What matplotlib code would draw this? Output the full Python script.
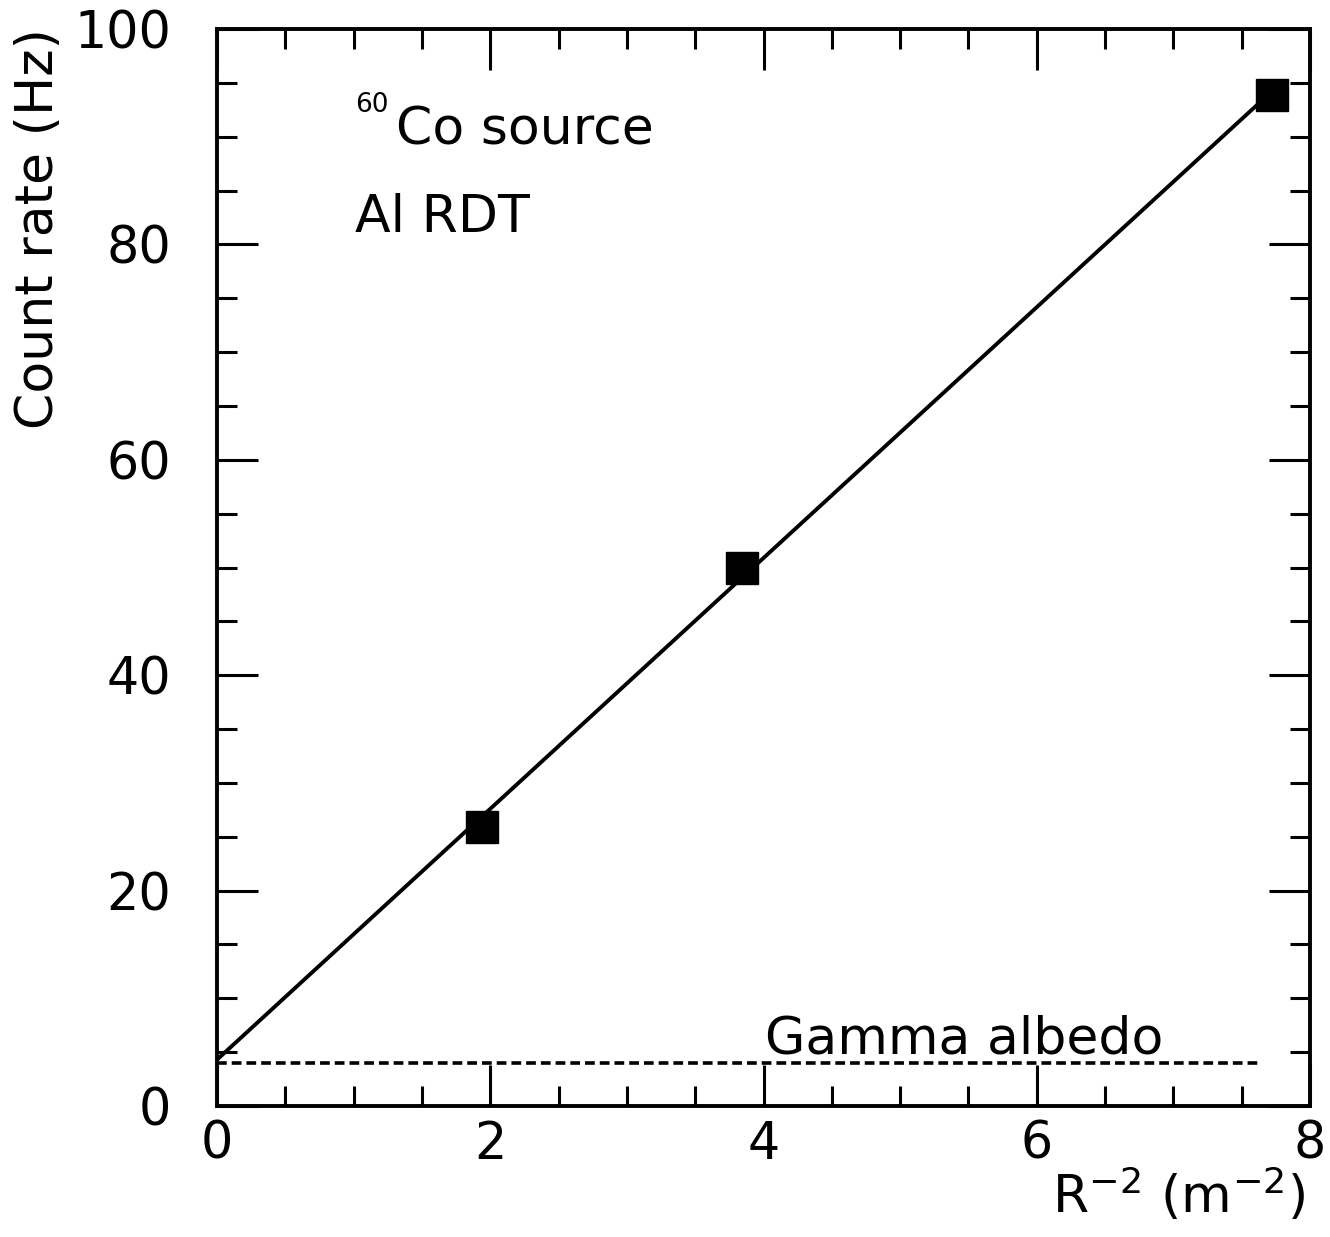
import matplotlib
matplotlib.use("Agg")
import matplotlib.pyplot as plt
from matplotlib.ticker import MultipleLocator

# ---- data ----
r_inv2 = [1.94, 3.84, 7.72]          # R^-2 (m^-2)
count_rate = [25.9, 49.95, 93.9]     # Hz
fit_x = [0.0, 7.72]
fit_y = [4.3, 94.2]
albedo_x = [0.0, 7.65]
albedo_y = [4.0, 4.0]
x_ticks = [0, 2, 4, 6, 8]
y_ticks = [0, 20, 40, 60, 80, 100]

plt.rcParams['font.family'] = ['DejaVu Sans']
plt.rcParams['mathtext.default'] = 'regular'
plt.rcParams['lines.scale_dashes'] = False

FS = 37.5
FS_TICK = 36.5
fig = plt.figure(figsize=(13.30, 12.37), dpi=100)
ax = fig.add_axes([217/1330, 1 - 1106/1237, (1310-217)/1330, (1106-29)/1237])

ax.plot(fit_x, fit_y, color='black', lw=2.8, solid_capstyle='butt', zorder=2)
ax.plot(albedo_x, albedo_y, color='black', lw=2.6, dashes=(7, 3.6), zorder=2)
ax.plot(r_inv2, count_rate, linestyle='none', marker='s', markersize=23,
        color='black', zorder=3)

ax.set_xlim(0, 8)
ax.set_ylim(0, 100)
ax.set_xticks(x_ticks)
ax.set_yticks(y_ticks)
ax.set_xticklabels([str(v) for v in x_ticks])
ax.set_yticklabels([str(v) for v in y_ticks])
ax.xaxis.set_minor_locator(MultipleLocator(0.5))
ax.yaxis.set_minor_locator(MultipleLocator(5))
ax.tick_params(which='both', direction='in', top=True, right=True, color='black')
ax.tick_params(which='major', length=29.5, width=2.2, labelsize=FS_TICK)
ax.tick_params(which='minor', length=14.5, width=2.2)
ax.tick_params(axis='y', which='major', pad=33)
ax.tick_params(axis='x', which='major', pad=10)
for s in ax.spines.values():
    s.set_linewidth(2.8)

# axis labels
ax.text(0.9954, -0.0993, r'R$^{-2}$ (m$^{-2}$)', transform=ax.transAxes,
        ha='right', va='baseline', fontsize=FS)
ax.text(-0.1500, 1.0009, 'Count rate (Hz)', transform=ax.transAxes,
        rotation=90, rotation_mode='anchor', ha='right', va='baseline', fontsize=FS)

# annotations
ax.text(0.1263, 0.9229, '60', transform=ax.transAxes, ha='left', va='baseline', fontsize=19)
ax.text(0.164, 0.8923, 'Co source', transform=ax.transAxes, ha='left', va='baseline', fontsize=FS)
ax.text(0.1263, 0.8115, 'Al RDT', transform=ax.transAxes, ha='left', va='baseline', fontsize=FS)
ax.text(0.501, 0.0492, 'Gamma albedo', transform=ax.transAxes, ha='left', va='baseline', fontsize=FS)

fig.savefig('out.png', dpi=100)
